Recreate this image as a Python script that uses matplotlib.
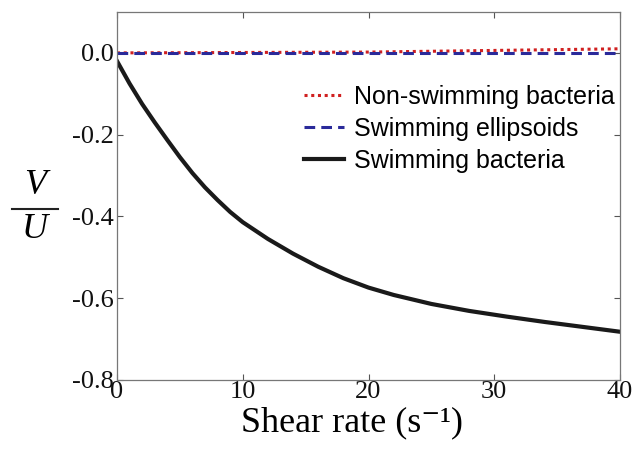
import matplotlib
matplotlib.use("Agg")
import matplotlib.pyplot as plt
from matplotlib.lines import Line2D

shear = [0, 1, 2, 3, 4, 5, 6, 7, 8, 9, 10, 12, 14, 16, 18, 20, 22, 25, 28, 31, 34, 37, 40]
swim_bact = [-0.02, -0.075, -0.125, -0.17, -0.213, -0.255, -0.294, -0.329, -0.36,
             -0.389, -0.414, -0.455, -0.491, -0.523, -0.551, -0.574, -0.592, -0.614,
             -0.631, -0.645, -0.658, -0.670, -0.682]
nonswim_x = [0, 20, 40]
nonswim = [0.0, 0.002, 0.01]
ellip_x = [0, 40]
ellip = [0.0, 0.0]
xticks = [0, 10, 20, 30, 40]
yticks = [0.0, -0.2, -0.4, -0.6, -0.8]
ytick_labels = ["0.0", "-0.2", "-0.4", "-0.6", "-0.8"]

W, H = 632, 449
fig = plt.figure(figsize=(W / 100, H / 100), dpi=100)
ax = fig.add_axes([117 / W, 1 - 380 / H, 503 / W, 368 / H])

ax.plot(nonswim_x, nonswim, color="#d02020", linestyle=(0, (1, 1.2)), lw=2.2,
        label="Non-swimming bacteria")
ax.plot(ellip_x, ellip, color="#2a2a9a", linestyle=(0, (3.5, 2)), lw=2.2,
        label="Swimming ellipsoids")
ax.plot(shear, swim_bact, color="#1a1a1a", lw=3, label="Swimming bacteria",
        solid_joinstyle="round")

ax.set_xlim(0, 40)
ax.set_ylim(-0.8, 0.1)
ax.set_xticks(xticks)
ax.set_yticks(yticks)
ax.set_yticklabels(ytick_labels)
ax.tick_params(direction="in", top=True, right=True, length=4, width=0.8,
               colors="#555555", labelcolor="#111111", labelsize=19, pad=2)
for lab in ax.get_xticklabels() + ax.get_yticklabels():
    lab.set_fontfamily("Liberation Serif")
ax.tick_params(axis="x", pad=1)
for s in ax.spines.values():
    s.set_color("#777777")
    s.set_linewidth(0.9)

ax.set_xlabel("Shear rate (s\u207b\u00b9)", fontfamily=["Liberation Serif", "DejaVu Serif"],
              fontsize=26, labelpad=2)
ax.xaxis.label.set_x((352 - 117) / 503)

# V / U fraction label
fig.text(35 / W, 1 - 186 / H, "V", fontsize=26, style="italic",
         fontfamily="Liberation Serif", ha="center", va="center")
fig.text(35 / W, 1 - 230 / H, "U", fontsize=26, style="italic",
         fontfamily="Liberation Serif", ha="center", va="center")
fig.add_artist(Line2D([12 / W, 58 / W], [1 - 209 / H, 1 - 209 / H],
                      transform=fig.transFigure, color="#222222", lw=1.5))

leg = ax.legend(loc="upper left", bbox_to_anchor=(304 / W, 1 - 85 / H),
                bbox_transform=fig.transFigure, frameon=False,
                borderpad=0, borderaxespad=0,
                prop={"family": "Liberation Sans", "size": 18},
                handlelength=1.6, handletextpad=0.4, labelspacing=0.32)

fig.savefig("out.png", dpi=100)
